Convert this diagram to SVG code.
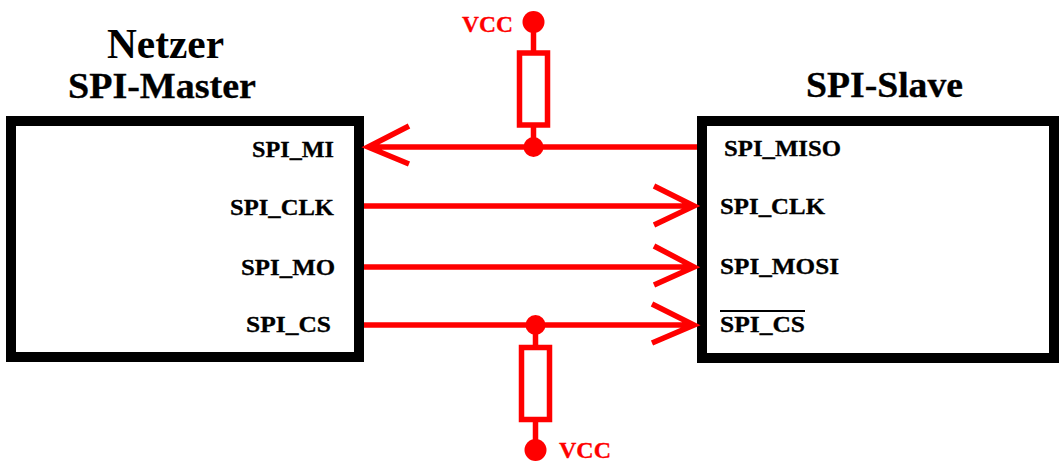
<svg xmlns="http://www.w3.org/2000/svg" width="1061" height="462" viewBox="0 0 1061 462">
<style>
text{font-family:"Liberation Serif",serif;font-weight:bold;stroke-width:.3}
.t{font-size:24px;fill:#000;stroke:#000}
.h{font-size:36px;fill:#000;stroke:#000}
.n{font-size:42px;fill:#000}
.v{font-size:24px;fill:#f00;stroke:#f00}
.box{fill:#fff;stroke:#000;stroke-width:10}
.w{fill:none;stroke:#f00;stroke-width:5.5}
.r{fill:#fff;stroke:#f00;stroke-width:5.5}
.d{fill:#f00}
</style>
<rect width="1061" height="462" fill="#fff"/>
<g id="master"><rect class="box" x="11" y="121" width="348" height="236"/>
<text class="n" x="107" y="58" textLength="117" lengthAdjust="spacingAndGlyphs">Netzer</text>
<text class="h" x="68" y="98" textLength="188" lengthAdjust="spacingAndGlyphs">SPI-Master</text>
<text class="t" x="252" y="157" textLength="82" lengthAdjust="spacingAndGlyphs">SPI_MI</text>
<text class="t" x="230" y="215" textLength="104" lengthAdjust="spacingAndGlyphs">SPI_CLK</text>
<text class="t" x="241" y="275" textLength="94" lengthAdjust="spacingAndGlyphs">SPI_MO</text>
<text class="t" x="246" y="332" textLength="85" lengthAdjust="spacingAndGlyphs">SPI_CS</text></g>
<g id="slave"><rect class="box" x="702" y="121" width="352" height="237"/>
<text class="h" x="806" y="97" textLength="157" lengthAdjust="spacingAndGlyphs">SPI-Slave</text>
<text class="t" x="724" y="156" textLength="117" lengthAdjust="spacingAndGlyphs">SPI_MISO</text>
<text class="t" x="720" y="214" textLength="105" lengthAdjust="spacingAndGlyphs">SPI_CLK</text>
<text class="t" x="720" y="274" textLength="119" lengthAdjust="spacingAndGlyphs">SPI_MOSI</text>
<text class="t" x="720" y="332" textLength="85" lengthAdjust="spacingAndGlyphs">SPI_CS</text>
<path d="M720 311H805" stroke="#000" stroke-width="2"/></g>
<g id="connectors">
<path class="w" d="M367 147H697M409 126L368 147L409 164"/>
<path class="w" d="M364 206H694M654 186L694 206L654 225"/>
<path class="w" d="M364 267H694M654 246L694 267L654 285"/>
<path class="w" d="M364 325H694M652 304L694 325L652 343"/>
</g>
<g id="pullup-top"><path class="w" d="M533.500 22V147"/><rect class="r" x="519.500" y="53" width="28" height="72"/>
<circle class="d" cx="533.500" cy="22" r="11"/><circle class="d" cx="533.500" cy="147" r="10"/>
<text class="v" x="462" y="32" textLength="51" lengthAdjust="spacingAndGlyphs">VCC</text></g>
<g id="pullup-bottom"><path class="w" d="M535.500 325V450"/><rect class="r" x="521.500" y="347.500" width="28" height="72"/>
<circle class="d" cx="535.500" cy="325" r="10"/><circle class="d" cx="535.500" cy="450" r="11"/>
<text class="v" x="559" y="458" textLength="52" lengthAdjust="spacingAndGlyphs">VCC</text></g>
</svg>
